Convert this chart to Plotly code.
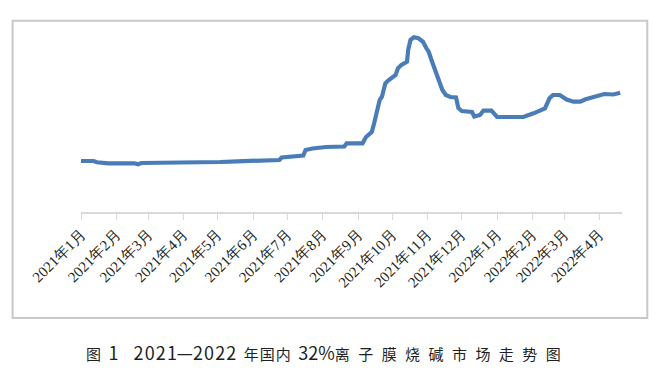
import plotly.graph_objects as go

# ---- data ----
dates = [
    "2021-01-01", "2021-01-12", "2021-01-15", "2021-01-25", "2021-02-17", "2021-02-20",
    "2021-02-23", "2021-03-11", "2021-03-16", "2021-04-20", "2021-05-03", "2021-05-18",
    "2021-06-01", "2021-06-15", "2021-06-24", "2021-06-26", "2021-07-12", "2021-07-15",
    "2021-07-17", "2021-07-23", "2021-08-04", "2021-08-20", "2021-08-22", "2021-09-05",
    "2021-09-08", "2021-09-13", "2021-09-15", "2021-09-18", "2021-09-20", "2021-09-22",
    "2021-09-25", "2021-09-28", "2021-10-04", "2021-10-06", "2021-10-09", "2021-10-14",
    "2021-10-15", "2021-10-17", "2021-10-20", "2021-10-24", "2021-10-28", "2021-10-31",
    "2021-11-02", "2021-11-05", "2021-11-08", "2021-11-09", "2021-11-11", "2021-11-14",
    "2021-11-17", "2021-11-21", "2021-11-26", "2021-11-28", "2021-12-01", "2021-12-10",
    "2021-12-12", "2021-12-17", "2021-12-20", "2021-12-27", "2022-01-01", "2022-01-24",
    "2022-02-02", "2022-02-08", "2022-02-12", "2022-02-16", "2022-02-19", "2022-02-25",
    "2022-03-03", "2022-03-09", "2022-03-15", "2022-03-19", "2022-03-27", "2022-04-05",
    "2022-04-13", "2022-04-19",
]
prices = [
    510, 510, 497, 487, 487, 477,
    490, 490, 495, 495, 500, 507,
    510, 515, 520, 545, 555, 565,
    620, 635, 650, 655, 687, 687,
    750, 800, 880, 1020, 1120, 1153,
    1287, 1320, 1370, 1437, 1470, 1503,
    1620, 1720, 1747, 1737, 1703, 1637,
    1603, 1503, 1410, 1370, 1287, 1220,
    1170, 1150, 1145, 1040, 1010, 1000,
    955, 970, 1013, 1013, 950, 950,
    987, 1020, 1037, 1137, 1170, 1170,
    1125, 1103, 1103, 1125, 1147, 1180,
    1175, 1193,
]
tick_dates = [
    "2021-01-01", "2021-02-01", "2021-03-01", "2021-04-01", "2021-05-01", "2021-06-01",
    "2021-07-01", "2021-08-01", "2021-09-01", "2021-10-01", "2021-11-01", "2021-12-01",
    "2022-01-01", "2022-02-01", "2022-03-01", "2022-04-01",
]
tick_labels = [
    "2021年1月", "2021年2月", "2021年3月", "2021年4月", "2021年5月", "2021年6月",
    "2021年7月", "2021年8月", "2021年9月", "2021年10月", "2021年11月", "2021年12月",
    "2022年1月", "2022年2月", "2022年3月", "2022年4月",
]

# caption, typeset with the spacing of the printed figure
EN = "\u2002"
HAIR = "\u200a"
WIDE = "\u2002\u200a"
BIG = "<span style='font-size:18px'>{}</span>"
caption = (
    "图" + EN + BIG.format("1") + "\u2003"
    + BIG.format(HAIR.join("2021") + "—" + HAIR.join("2022")) + EN
    + HAIR.join("年国内") + EN
    + BIG.format("32%")
    + WIDE.join("离子膜烧碱市场走势图")
)

fig = go.Figure()
fig.add_trace(go.Scatter(
    x=dates, y=prices, mode="lines",
    line=dict(color="#4A7DB8", width=4.2),
    hoverinfo="skip", showlegend=False,
))

fig.update_layout(
    width=657, height=379,
    margin=dict(l=72.7, r=43.3, t=4, b=175, autoexpand=False),
    paper_bgcolor="white", plot_bgcolor="white",
    xaxis=dict(
        type="date",
        range=["2021-01-01", "2022-04-20 14:00"],
        tickvals=tick_dates, ticktext=tick_labels,
        tickangle=-45,
        tickfont=dict(family="'Liberation Serif', 'Times New Roman', serif", size=15, color="#231f20"),
        showline=True, linecolor="#d9d9d9", linewidth=1.5,
        ticks="outside", ticklen=6, tickcolor="#d9d9d9", tickwidth=1,
        showgrid=False, zeroline=False, automargin=False,
    ),
    yaxis=dict(range=[0, 2000], visible=False, showgrid=False, zeroline=False),
    shapes=[dict(
        type="rect", xref="paper", yref="paper",
        x0=-0.1264, x1=1.0468, y0=-0.53, y1=0.9565,
        line=dict(color="#c8c8c8", width=2), fillcolor="rgba(0,0,0,0)",
    )],
    annotations=[dict(
        text=caption, xref="paper", yref="paper",
        x=0.4475, y=-0.70, xanchor="center", yanchor="middle",
        showarrow=False,
        font=dict(family="Noto Sans CJK SC, Noto Sans", size=15, color="#231f20"),
    )],
)

fig.write_html("out.html")
